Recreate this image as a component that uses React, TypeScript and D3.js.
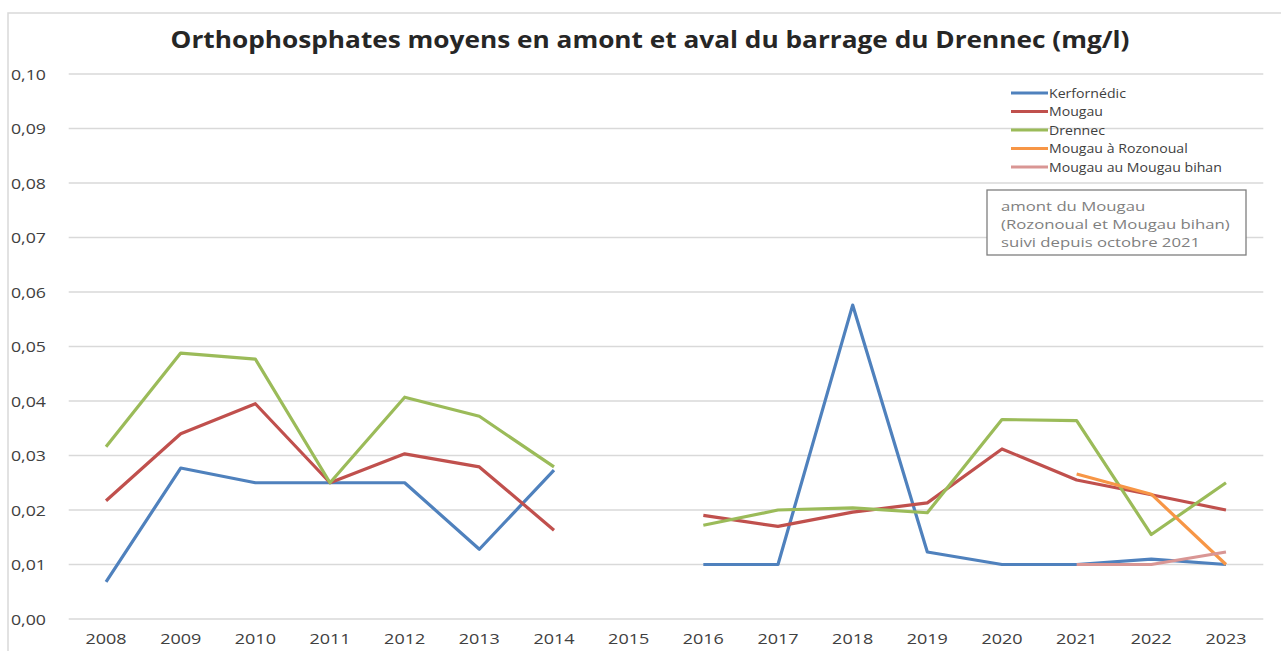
import React from 'react';
import * as d3 from 'd3';

const years = ['2008', '2009', '2010', '2011', '2012', '2013', '2014', '2015', '2016', '2017', '2018', '2019', '2020', '2021', '2022', '2023'];

const kerfornedic = [0.0068, 0.0277, 0.025, 0.025, 0.025, 0.0128, 0.0273, null, 0.01, 0.01, 0.0576, 0.0123, 0.01, 0.01, 0.011, 0.01];
const mougau = [0.0217, 0.034, 0.0395, 0.025, 0.0303, 0.0279, 0.0163, null, 0.019, 0.017, 0.0196, 0.0213, 0.0312, 0.0255, 0.0228, 0.02];
const drennec = [0.0316, 0.0488, 0.0477, 0.025, 0.0407, 0.0372, 0.0279, null, 0.0172, 0.02, 0.0204, 0.0195, 0.0366, 0.0364, 0.0155, 0.025];
const rozonoual = [null, null, null, null, null, null, null, null, null, null, null, null, null, 0.0266, 0.0229, 0.01];
const mougauBihan = [null, null, null, null, null, null, null, null, null, null, null, null, null, 0.01, 0.01, 0.0123];

const yTicks = [0, 0.01, 0.02, 0.03, 0.04, 0.05, 0.06, 0.07, 0.08, 0.09, 0.1];

const noteLines = ['amont du Mougau', '(Rozonoual et Mougau bihan)', 'suivi depuis octobre 2021'];

const series = [
  { name: 'Kerfornédic', values: kerfornedic, color: '#4F81BD' },
  { name: 'Mougau', values: mougau, color: '#C0504D' },
  { name: 'Drennec', values: drennec, color: '#9BBB59' },
  { name: 'Mougau à Rozonoual', values: rozonoual, color: '#F79646' },
  { name: 'Mougau au Mougau bihan', values: mougauBihan, color: '#D99694' },
];

const W = 1281;
const H = 651;
const font = "'Open Sans', sans-serif";

// the original picture is stretched sideways, so text is widened a bit
const Stretch = ({ x, y, sx, children }: { x: number; y: number; sx: number; children: React.ReactNode }) => (
  <g transform={`translate(${x},${y}) scale(${sx},1)`}>{children}</g>
);

export default function App() {
  const x = d3.scaleBand().domain(years).range([68.7, 1263.3]);
  const y = d3.scaleLinear().domain([0, 0.1]).range([619, 74]);
  const cx = (d: string) => (x(d) as number) + x.bandwidth() / 2;

  const line = d3.line<number | null>()
    .defined(d => d !== null)
    .x((_, i) => cx(years[i]))
    .y(d => y(d as number));

  const fmt = (v: number) => v.toFixed(2).replace('.', ',');

  return (
    <svg width={W} height={H} style={{ position: 'absolute', left: 0, top: 0 }}>
      <rect x={8} y={13} width={W + 10} height={H} fill="#fff" stroke="#d9d9d9" strokeWidth={1.5} />
      <Stretch x={650} y={48} sx={1.14}>
        <text textAnchor="middle" fontFamily={font} fontWeight="bold" fontSize={23} fill="#262626">
          Orthophosphates moyens en amont et aval du barrage du Drennec (mg/l)
        </text>
      </Stretch>

      {yTicks.map(t => (
        <g key={t}>
          <line x1={68.7} x2={1263.3} y1={y(t)} y2={y(t)} stroke="#d9d9d9" strokeWidth={1.3} />
          <Stretch x={11} y={y(t) + 5.5} sx={1.18}>
            <text fontFamily={font} fontSize={15} fill="#404040">{fmt(t)}</text>
          </Stretch>
        </g>
      ))}

      {years.map(yr => (
        <Stretch key={yr} x={cx(yr)} y={644} sx={1.2}>
          <text textAnchor="middle" fontFamily={font} fontSize={15} fill="#404040">{yr}</text>
        </Stretch>
      ))}

      {series.map(s => (
        <path key={s.name} d={line(s.values) || ''} fill="none" stroke={s.color} strokeWidth={3.2} strokeLinejoin="round" />
      ))}

      {series.map((s, i) => (
        <g key={s.name} transform={`translate(1011, ${93 + i * 18.5})`}>
          <line x1={0} x2={37} y1={0} y2={0} stroke={s.color} strokeWidth={3} />
          <Stretch x={38} y={4.5} sx={1.13}>
            <text fontFamily={font} fontSize={12.5} fill="#404040">{s.name}</text>
          </Stretch>
        </g>
      ))}

      <rect x={987} y={190} width={259} height={65} fill="#fff" stroke="#7f7f7f" strokeWidth={1.3} />
      {noteLines.map((l, i) => (
        <Stretch key={i} x={1001} y={211 + i * 18} sx={1.24}>
          <text fontFamily={font} fontSize={13.5} fill="#7f7f7f">{l}</text>
        </Stretch>
      ))}
    </svg>
  );
}
